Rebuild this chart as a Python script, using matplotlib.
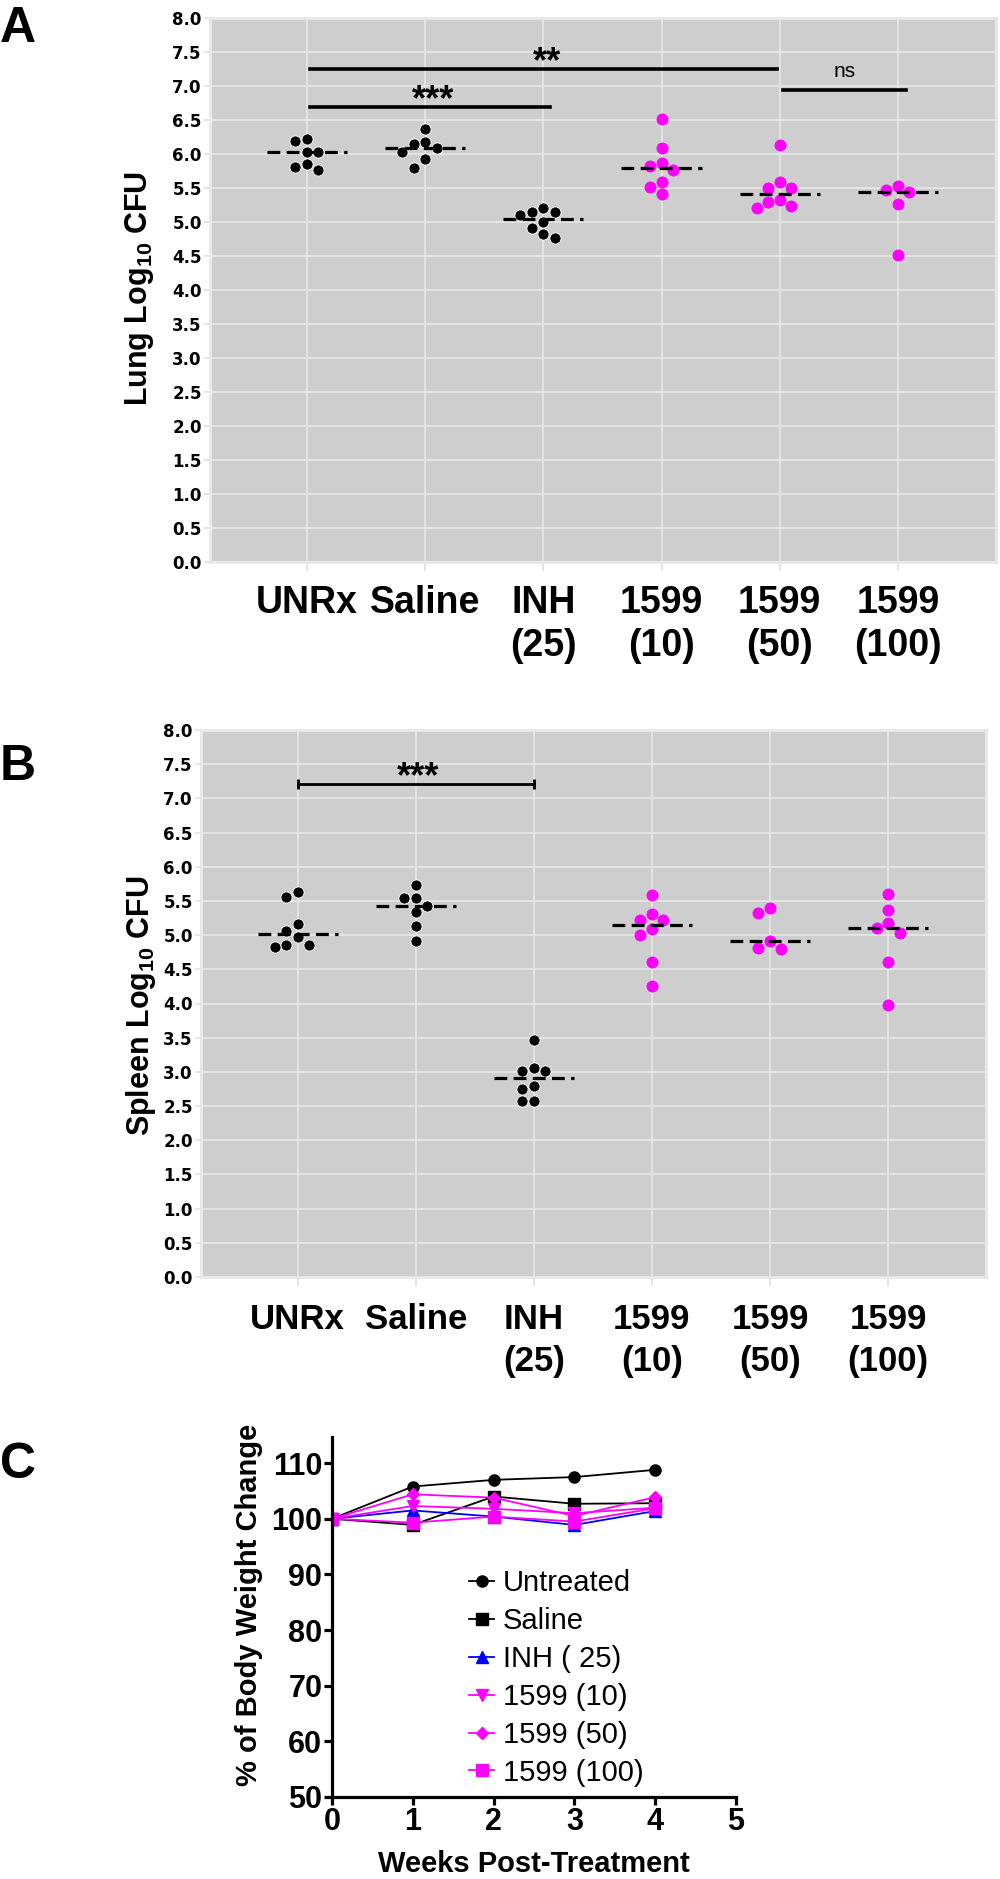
import numpy as np
import matplotlib.pyplot as plt

plt.rcParams['font.family'] = ['Liberation Sans', 'DejaVu Sans']
plt.rcParams['mathtext.fontset'] = 'custom'
plt.rcParams['mathtext.rm'] = 'Liberation Sans:bold'
plt.rcParams['mathtext.bf'] = 'Liberation Sans:bold'

MAG = '#ff00ff'

groups = ['UNRx', 'Saline', 'INH\n(25)', '1599\n(10)', '1599\n(50)', '1599\n(100)']
group_colors = ['black', 'black', 'black', MAG, MAG, MAG]

# A - lung log10 CFU
lung_unrx = [6.22, 6.19, 6.03, 6.03, 5.85, 5.81, 5.77]
lung_saline = [6.37, 6.18, 6.15, 6.09, 6.03, 5.92, 5.79]
lung_inh = [5.20, 5.15, 5.15, 5.10, 5.00, 4.91, 4.83, 4.77]
lung_1599_10 = [6.51, 6.09, 5.87, 5.83, 5.77, 5.59, 5.52, 5.41]
lung_1599_50 = [6.13, 5.59, 5.50, 5.50, 5.32, 5.30, 5.24, 5.20]
lung_1599_100 = [5.53, 5.47, 5.44, 5.26, 4.51]

# B - spleen log10 CFU
spleen_unrx = [5.63, 5.56, 5.17, 5.06, 4.97, 4.86, 4.86, 4.83]
spleen_saline = [5.74, 5.55, 5.55, 5.42, 5.34, 5.14, 4.92]
spleen_inh = [3.46, 3.06, 3.01, 3.01, 2.80, 2.75, 2.57, 2.57]
spleen_1599_10 = [5.59, 5.31, 5.22, 5.22, 5.09, 5.00, 4.60, 4.26]
spleen_1599_50 = [5.40, 5.32, 4.92, 4.81, 4.79]
spleen_1599_100 = [5.60, 5.37, 5.18, 5.10, 5.03, 4.60, 3.98]

# significance brackets (from, to, height, label)
lung_sig = [(0.03, 2.06, 6.69, '***'), (0.03, 3.98, 7.25, '**'), (4.03, 5.07, 6.94, 'ns')]
spleen_sig = [(0, 2, 7.21, '***')]

# C - body weight
weeks = [0, 1, 2, 3, 4]
untreated = [100, 105.8, 107.0, 107.5, 108.8]
saline = [100, 98.9, 104.0, 102.7, 102.8]
inh_25 = [100, 101.5, 100.4, 98.9, 101.4]
w1599_10 = [100, 102.3, 101.8, 101.0, 102.0]
w1599_50 = [100, 104.4, 103.8, 100.5, 103.9]
w1599_100 = [100, 99.3, 100.4, 99.5, 101.9]
weight_labels = ['Untreated', 'Saline', 'INH ( 25)', '1599 (10)', '1599 (50)', '1599 (100)']

W, H = 1000, 1879
fig = plt.figure(figsize=(W / 100, H / 100), dpi=100)


def box(l, t, r, b):
    return [l / W, 1 - b / H, (r - l) / W, (b - t) / H]


def swarm(ax, vals, d_px=11.5):
    # simple greedy beeswarm offsets (prism style scatter)
    p0 = ax.transData.transform((0, 0))
    p1 = ax.transData.transform((1, 1))
    sx, sy = p1[0] - p0[0], p1[1] - p0[1]
    step = d_px / sx
    placed = []
    offs = np.zeros(len(vals))
    for i in np.argsort(vals)[::-1]:
        for k in [0, -1, 1, -2, 2, -3, 3, -4, 4]:
            ok = True
            for (px, py) in placed:
                if np.hypot((k * step - px) * sx, (vals[i] - py) * sy) < d_px * 0.95:
                    ok = False
                    break
            if ok:
                offs[i] = k * step
                placed.append((k * step, vals[i]))
                break
    return offs


def dot_panel(ax, data, sig, xfs, lsp, pad, caps=False):
    ax.set_xlim(-0.82, 5.83)
    ax.set_ylim(0, 8)
    ax.set_facecolor('#cecece')
    for s in ax.spines.values():
        s.set_color('#e8e8e8')
        s.set_linewidth(2.2)
    ax.grid(True, color='#e6e6e6', lw=1.3)
    ax.set_axisbelow(True)
    ax.set_yticks(np.arange(0, 8.01, 0.5))
    ax.set_yticklabels(['%.1f' % v for v in np.arange(0, 8.01, 0.5)],
                       family='DejaVu Sans', fontweight='bold', fontsize=12)
    ax.set_xticks(range(len(groups)))
    ax.set_xticklabels(groups, fontweight='bold', fontsize=xfs, linespacing=lsp)
    ax.tick_params(axis='x', colors='#e3e3e3', labelcolor='black', length=6.5, width=1.3, pad=pad)
    ax.tick_params(axis='y', colors='#e3e3e3', labelcolor='black', length=4, width=1.3, pad=2)
    for i, vals in enumerate(data):
        vals = np.array(vals)
        x = i + swarm(ax, vals)
        ec = 'white' if group_colors[i] == 'black' else MAG
        ax.scatter(x, vals, s=64, color=group_colors[i], edgecolors=ec, linewidths=0.6, zorder=3)
        ax.hlines(np.median(vals), i - 0.34, i + 0.34, colors='black', lw=2.3,
                  linestyles=(0, (4, 2)), zorder=4)
    for a, b, y, lab in sig:
        if caps:
            ax.plot([a, b], [y, y], color='black', lw=2.0)
            ax.vlines([a, b], y - 0.08, y + 0.08, color='black', lw=2.0)
        else:
            ax.plot([a, b], [y, y], color='black', lw=2.6)
        if lab == 'ns':
            ax.text(4.55, y + 0.19, lab, ha='center', va='baseline', fontsize=15)
        else:
            ax.text(round((a + b) / 2) + 0.03 if lab == '**' else (a + b) / 2 + 0.02, y - 0.05, lab,
                    ha='center', va='baseline', fontsize=26, fontweight='bold')


# Panel A
axA = fig.add_axes(box(210, 18, 996, 562))
dot_panel(axA, [lung_unrx, lung_saline, lung_inh, lung_1599_10, lung_1599_50, lung_1599_100],
          lung_sig, 27, 1.25, 10)
fig.text(0.0, 1 - 29 / H, 'A', fontsize=36, fontweight='bold', ha='left', va='center')
fig.text(140 / W, 1 - 288 / H, r'Lung Log$_{\mathbf{10}}$ CFU', rotation=90, fontsize=22,
         fontweight='bold', ha='center', va='center')

# Panel B
axB = fig.add_axes(box(201, 730, 986, 1277))
dot_panel(axB, [spleen_unrx, spleen_saline, spleen_inh, spleen_1599_10, spleen_1599_50, spleen_1599_100],
          spleen_sig, 25, 1.35, 12, caps=True)
fig.text(0.0, 1 - 767 / H, 'B', fontsize=36, fontweight='bold', ha='left', va='center')
fig.text(141 / W, 1 - 1006 / H, r'Spleen Log$_{\mathbf{10}}$ CFU', rotation=90, fontsize=22,
         fontweight='bold', ha='center', va='center')

# Panel C
axC = fig.add_axes(box(332, 1437, 736, 1797))
series = [untreated, saline, inh_25, w1599_10, w1599_50, w1599_100]
cols = ['black', 'black', 'blue', MAG, MAG, MAG]
marks = ['o', 's', '^', 'v', 'D', 's']
msz = [8, 8, 8, 8, 6.5, 8]
for ys, c, m, ms, lab in zip(series, cols, marks, msz, weight_labels):
    axC.plot(weeks, ys, color=c, marker=m, markersize=ms, lw=1.3, label=lab)
axC.set_xlim(0, 5)
axC.set_ylim(50, 114.7)
axC.set_xticks(range(6))
axC.set_yticks(range(50, 111, 10))
for s in ['top', 'right']:
    axC.spines[s].set_visible(False)
for s in ['left', 'bottom']:
    axC.spines[s].set_linewidth(2.3)
axC.tick_params(width=2.3, length=6, labelsize=22, pad=1)
for t in axC.get_xticklabels() + axC.get_yticklabels():
    t.set_fontweight('bold')
fig.text(534 / W, 1 - 1864 / H, 'Weeks Post-Treatment', fontsize=21, fontweight='bold',
         ha='center', va='center')
fig.text(249 / W, 1 - 1605 / H, '% of Body Weight Change', rotation=90, fontsize=21,
         fontweight='bold', ha='center', va='center')
fig.text(0.0, 1 - 1465 / H, 'C', fontsize=36, fontweight='bold', ha='left', va='center')
axC.legend(loc='upper left', bbox_to_anchor=(0.34, 0.633), frameon=False, fontsize=21,
           handlelength=0.85, handletextpad=0.3, labelspacing=0.34, borderpad=0, borderaxespad=0)

fig.savefig('out.png', dpi=100)
